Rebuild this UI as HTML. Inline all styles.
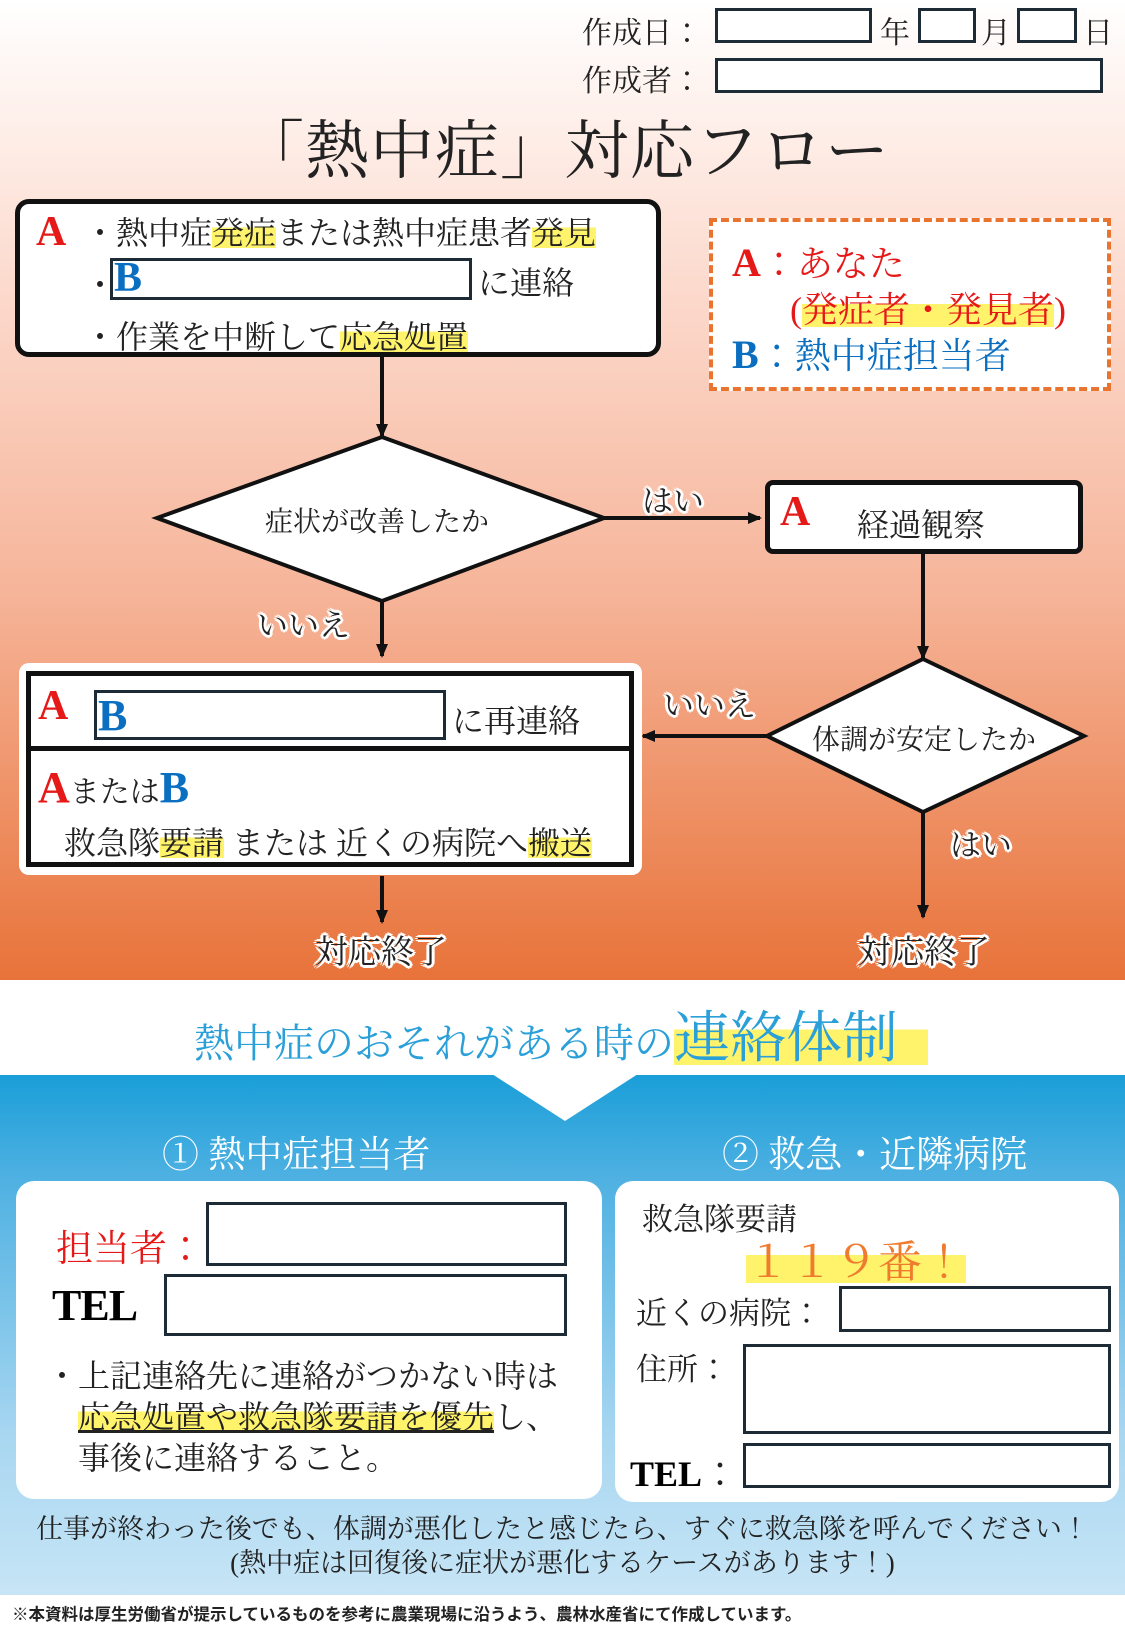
<!DOCTYPE html>
<html><head><meta charset="utf-8">
<style>
*{margin:0;padding:0;box-sizing:border-box}
body{width:1125px;height:1625px;position:relative;overflow:hidden;font-family:"Liberation Serif","Noto Serif CJK JP","Noto Serif CJK SC",serif;color:#222}
.a{position:absolute;white-space:nowrap}
.bx{position:absolute;border:3px solid #1c2b36;background:#fff}
.hl{background:linear-gradient(transparent 35%,#fff36b 35%,#fff36b 92%,transparent 92%)}
.R{color:#e61919;font-weight:bold}
.Bl{color:#0a6fc0;font-weight:bold}
.ol{text-shadow:3px 0 #fff,-3px 0 #fff,0 3px #fff,0 -3px #fff,2px 2px #fff,-2px -2px #fff,2px -2px #fff,-2px 2px #fff;color:#222}
</style></head><body>
<div class="a" style="left:0;top:0;width:1125px;height:980px;background:linear-gradient(#fff 0%,#fcd9cc 30%,#f6b59a 60%,#e8733a 100%)"></div>
<div class="a" style="left:0;top:980px;width:1125px;height:95px;background:#fff"></div>
<div class="a" style="left:0;top:1075px;width:1125px;height:520px;background:linear-gradient(#1a9ed8 0%,#4fb1e2 20%,#a9d7f1 70%,#c7e5f6 100%)"></div>
<div class="a" style="left:0;top:1595px;width:1125px;height:30px;background:#fff"></div>
<svg class="a" style="left:0;top:0" width="1125" height="1625">
<polygon points="492,1074 638,1074 565,1121" fill="#fff"/>
<defs><marker id="ar" markerWidth="14" markerHeight="14" refX="12" refY="7" orient="auto" markerUnits="userSpaceOnUse"><path d="M0,1 L14,7 L0,13 z" fill="#111"/></marker></defs>
<g stroke="#111" stroke-width="4" fill="none">
<line x1="382" y1="357" x2="382" y2="436" marker-end="url(#ar)"/>
<line x1="604" y1="518" x2="760" y2="518" marker-end="url(#ar)"/>
<line x1="382" y1="601" x2="382" y2="656" marker-end="url(#ar)"/>
<line x1="923" y1="554" x2="923" y2="658" marker-end="url(#ar)"/>
<line x1="767" y1="736" x2="643" y2="736" marker-end="url(#ar)"/>
<line x1="923" y1="812" x2="923" y2="917" marker-end="url(#ar)"/>
<line x1="382" y1="876" x2="382" y2="922" marker-end="url(#ar)"/>
</g>
<polygon points="382,437 604,518 382,601 157,518" fill="#fff" stroke="#111" stroke-width="4"/>
<polygon points="923,659 1084,736 923,812 767,736" fill="#fff" stroke="#111" stroke-width="4"/>
</svg>
<!-- header -->
<div class="a" style="left:582px;top:8px;font-size:30px">作成日：</div>
<div class="bx" style="left:715px;top:8px;width:157px;height:35px"></div>
<div class="a" style="left:880px;top:8px;font-size:30px">年</div>
<div class="bx" style="left:918px;top:8px;width:58px;height:35px"></div>
<div class="a" style="left:981px;top:8px;font-size:30px">月</div>
<div class="bx" style="left:1017px;top:8px;width:60px;height:35px"></div>
<div class="a" style="left:1083px;top:8px;font-size:30px">日</div>
<div class="a" style="left:582px;top:56px;font-size:30px">作成者：</div>
<div class="bx" style="left:715px;top:58px;width:388px;height:35px"></div>
<div class="a" style="left:240px;top:100px;font-size:64px;letter-spacing:1px">「熱中症」対応フロー</div>
<!-- box1 -->
<div class="a" style="left:15px;top:199px;width:646px;height:158px;border:5px solid #111;border-radius:14px;background:#fff"></div>
<div class="a R" style="left:36px;top:208px;font-size:42px;font-family:'Liberation Serif',serif">A</div>
<div class="a" style="left:84px;top:208px;font-size:32px">・熱中症<span class="hl">発症</span>または熱中症患者<span class="hl">発見</span></div>
<div class="a" style="left:84px;top:260px;font-size:32px">・</div>
<div class="bx" style="left:110px;top:258px;width:362px;height:42px"></div>
<div class="a Bl" style="left:114px;top:254px;font-size:42px">B</div>
<div class="a" style="left:478px;top:258px;font-size:32px">に連絡</div>
<div class="a" style="left:84px;top:312px;font-size:32px">・作業を中断して<span class="hl">応急処置</span></div>
<!-- legend -->
<div class="a" style="left:709px;top:218px;width:402px;height:173px;border:4px dashed #e8742f;background:#fff"></div>
<div class="a" style="left:732px;top:236px;font-size:36px;color:#e61919"><b style="font-size:40px">A</b>：あなた</div>
<div class="a" style="left:790px;top:282px;font-size:36px;color:#e61919">(<span class="hl">発症者・発見者</span>)</div>
<div class="a" style="left:732px;top:328px;font-size:36px;color:#0a6fc0"><b style="font-size:40px">B</b>：熱中症担当者</div>
<!-- diamonds text -->
<div class="a" style="left:265px;top:500px;font-size:28px">症状が改善したか</div>
<div class="a" style="left:812px;top:718px;font-size:28px">体調が安定したか</div>
<div class="a ol" style="left:642px;top:476px;font-size:31px">はい</div>
<div class="a ol" style="left:257px;top:600px;font-size:31px">いいえ</div>
<div class="a ol" style="left:663px;top:680px;font-size:31px">いいえ</div>
<div class="a ol" style="left:950px;top:820px;font-size:31px">はい</div>
<div class="a ol" style="left:315px;top:926px;font-size:33px">対応終了</div>
<div class="a ol" style="left:858px;top:926px;font-size:33px">対応終了</div>
<!-- keika -->
<div class="a" style="left:765px;top:480px;width:318px;height:74px;border:5px solid #111;border-radius:8px;background:#fff"></div>
<div class="a R" style="left:780px;top:488px;font-size:42px">A</div>
<div class="a" style="left:857px;top:500px;font-size:32px">経過観察</div>
<!-- big box -->
<div class="a" style="left:19px;top:663px;width:623px;height:212px;background:#fff;border-radius:10px"></div>
<div class="a" style="left:26px;top:671px;width:608px;height:80px;border:5px solid #111"></div>
<div class="a" style="left:26px;top:746px;width:608px;height:121px;border:5px solid #111"></div>
<div class="a R" style="left:38px;top:682px;font-size:42px">A</div>
<div class="bx" style="left:94px;top:690px;width:352px;height:50px"></div>
<div class="a Bl" style="left:98px;top:690px;font-size:44px">B</div>
<div class="a" style="left:452px;top:696px;font-size:32px">に再連絡</div>
<div class="a" style="left:38px;top:762px;font-size:30px"><b class="R" style="font-size:44px">A</b>または<b class="Bl" style="font-size:44px">B</b></div>
<div class="a" style="left:64px;top:818px;font-size:32px">救急隊<span class="hl">要請</span> または 近くの病院へ<span class="hl">搬送</span></div>
<!-- contact -->
<div class="a" style="left:194px;top:994px;font-size:40px;color:#2a9fd8">熱中症のおそれがある時の<span class="hl" style="font-size:56px;padding-right:30px">連絡体制</span></div>
<div class="a" style="left:162px;top:1124px;font-size:37px;color:#fff">① 熱中症担当者</div>
<div class="a" style="left:722px;top:1124px;font-size:37px;color:#fff">② 救急・近隣病院</div>
<div class="a" style="left:16px;top:1181px;width:586px;height:318px;background:#fff;border-radius:18px"></div>
<div class="a" style="left:615px;top:1181px;width:504px;height:321px;background:#fff;border-radius:18px"></div>
<div class="a" style="left:56px;top:1218px;font-size:37px;color:#e61919">担当者：</div>
<div class="bx" style="left:206px;top:1202px;width:361px;height:64px"></div>
<div class="a" style="left:52px;top:1280px;font-size:44px;font-weight:900;color:#000;letter-spacing:-1px">TEL</div>
<div class="bx" style="left:164px;top:1274px;width:403px;height:62px"></div>
<div class="a" style="left:46px;top:1356px;font-size:32px;line-height:41px">・上記連絡先に連絡がつかない時は<br>　<span class="hl" style="text-decoration:underline">応急処置や救急隊要請を優先</span>し、<br>　事後に連絡すること。</div>
<div class="a" style="left:642px;top:1194px;font-size:31px">救急隊要請</div>
<div class="a" style="left:746px;top:1226px;font-size:44px;color:#ef7b2f"><span class="hl">１１９番！</span></div>
<div class="a" style="left:636px;top:1288px;font-size:31px">近くの病院：</div>
<div class="bx" style="left:839px;top:1286px;width:272px;height:46px"></div>
<div class="a" style="left:636px;top:1344px;font-size:31px">住所：</div>
<div class="bx" style="left:743px;top:1344px;width:368px;height:90px"></div>
<div class="a" style="left:630px;top:1446px;font-size:36px"><b style="color:#000;font-weight:900">TEL</b>：</div>
<div class="bx" style="left:743px;top:1443px;width:368px;height:45px"></div>
<div class="a" style="left:0;top:1512px;width:1125px;text-align:center;font-size:27px;line-height:34px">仕事が終わった後でも、体調が悪化したと感じたら、すぐに救急隊を呼んでください！<br>(熱中症は回復後に症状が悪化するケースがあります！)</div>
<div class="a" style="left:12px;top:1601px;font-size:16.5px;font-weight:bold;font-family:'Liberation Sans','Noto Sans CJK JP',sans-serif">※本資料は厚生労働省が提示しているものを参考に農業現場に沿うよう、農林水産省にて作成しています。</div>
</body></html>
